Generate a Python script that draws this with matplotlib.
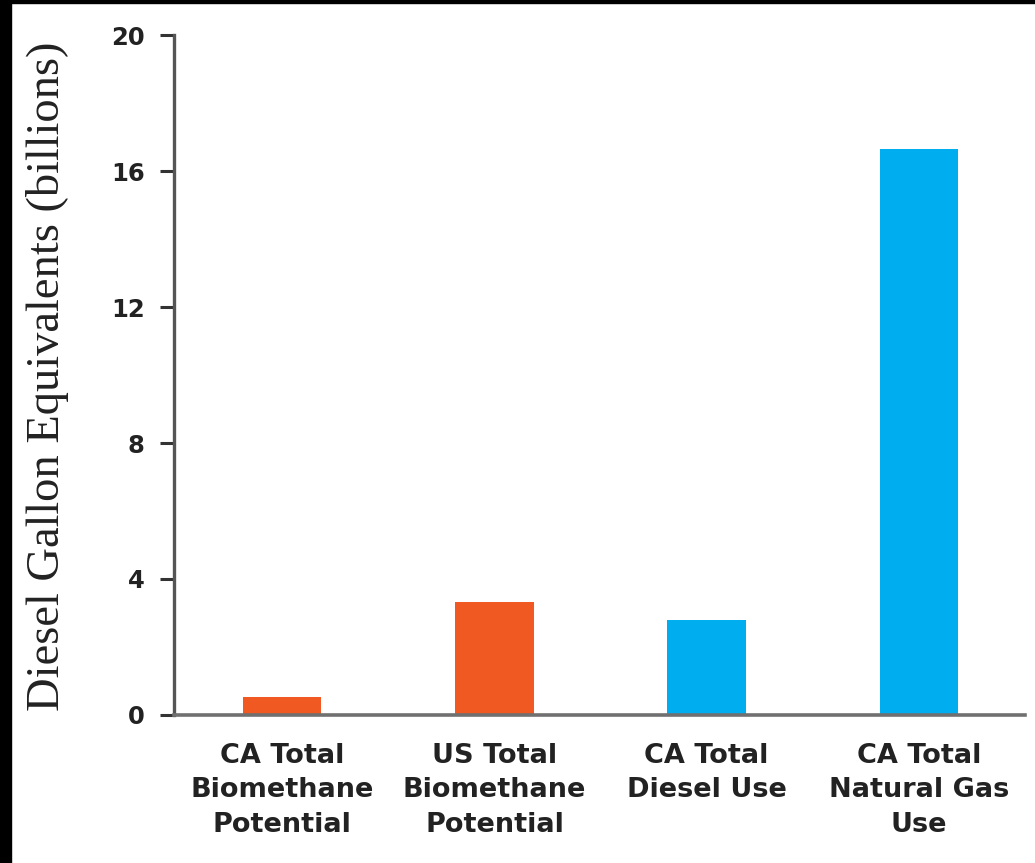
import matplotlib
matplotlib.use("Agg")
import matplotlib.pyplot as plt
from matplotlib.patches import Rectangle

categories = [
    "CA Total\nBiomethane\nPotential",
    "US Total\nBiomethane\nPotential",
    "CA Total\nDiesel Use",
    "CA Total\nNatural Gas\nUse",
]
values = [0.53, 3.32, 2.79, 16.65]
colors = ["#F05A22", "#F05A22", "#00AEEF", "#00AEEF"]
yticks = [0, 4, 8, 12, 16, 20]
ylabel = "Diesel Gallon Equivalents (billions)"

fig = plt.figure(figsize=(10.35, 8.63), dpi=100)
ax = fig.add_axes([174 / 1035, 1 - 715 / 863, (1025 - 174) / 1035, (715 - 35) / 863])

x = list(range(len(categories)))
ax.bar(x, values, width=0.37, color=colors, zorder=2)

ax.set_xlim(-0.51, 3.5)
ax.set_ylim(0, 20)
ax.set_yticks(yticks)
ax.set_yticklabels([str(t) for t in yticks])
ax.set_xticks(x)
ax.set_xticklabels(categories, linespacing=1.42)

for lbl in ax.get_yticklabels():
    lbl.set_fontfamily("DejaVu Sans")
    lbl.set_fontweight("semibold")
    lbl.set_fontsize(17.5)
    lbl.set_color("#222222")
for lbl in ax.get_xticklabels():
    lbl.set_fontfamily("DejaVu Sans")
    lbl.set_fontweight("semibold")
    lbl.set_fontsize(19.5)
    lbl.set_color("#222222")

ax.tick_params(axis="y", direction="out", length=10, width=2.2, color="#333333", pad=11)
ax.tick_params(axis="x", length=0, pad=20)

for side in ("top", "right"):
    ax.spines[side].set_visible(False)
ax.spines["left"].set_color("#555555")
ax.spines["left"].set_linewidth(2.4)
ax.spines["bottom"].set_color("#707070")
ax.spines["bottom"].set_linewidth(2.6)
ax.spines["bottom"].set_zorder(3)

fig.text(48 / 1035, 1 - 376 / 863, ylabel, rotation=90, ha="center", va="center",
         fontfamily="Liberation Serif", fontsize=33.5, color="#222222")

# dark frame strips along the left and top edges
fig.patches.append(Rectangle((0, 0), 11 / 1035, 1, transform=fig.transFigure,
                             color="black", zorder=10))
fig.patches.append(Rectangle((0, 1 - 3 / 863), 1, 3 / 863, transform=fig.transFigure,
                             color="black", zorder=10))

fig.savefig("out.png", dpi=100, facecolor="white")
